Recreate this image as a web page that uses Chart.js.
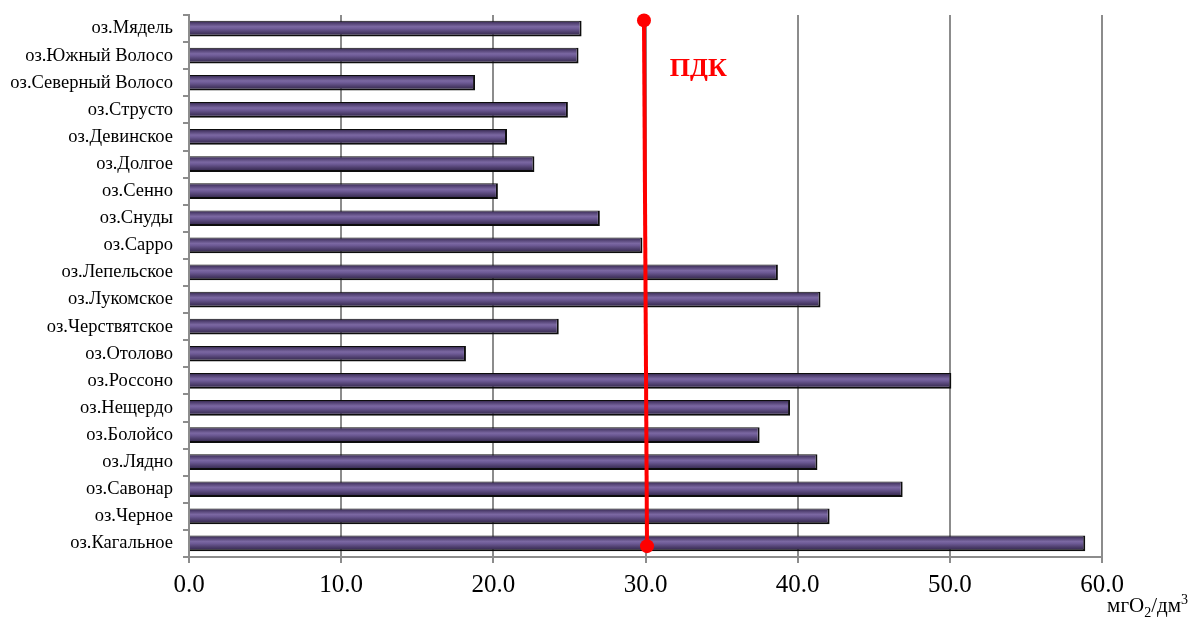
<!DOCTYPE html>
<html>
<head>
<meta charset="utf-8">
<script src="https://cdn.jsdelivr.net/npm/chart.js@4/dist/chart.umd.min.js"></script>
<style>
  html, body { margin: 0; padding: 0; background: #fff; }
  #wrap { width: 1189px; height: 626px; }
</style>
</head>
<body>
<div id="wrap"><canvas id="c" width="1189" height="626"></canvas></div>
<script>
const lakes = [
  'оз.Мядель', 'оз.Южный Волосо', 'оз.Северный Волосо', 'оз.Струсто', 'оз.Девинское',
  'оз.Долгое', 'оз.Сенно', 'оз.Снуды', 'оз.Сарро', 'оз.Лепельское',
  'оз.Лукомское', 'оз.Черствятское', 'оз.Отолово', 'оз.Россоно', 'оз.Нещердо',
  'оз.Болойсо', 'оз.Лядно', 'оз.Савонар', 'оз.Черное', 'оз.Кагальное'
];
const values = [
  25.8, 25.6, 18.8, 24.9, 20.9,
  22.7, 20.3, 27.0, 29.8, 38.7,
  41.5, 24.3, 18.2, 50.1, 39.5,
  37.5, 41.3, 46.9, 42.1, 58.9
];
const pdkLine = [ {x: 29.9, y: 0.99}, {x: 30.1, y: 0.02} ];
const pdkLabel = 'ПДК';
const xTicks = [0, 10, 20, 30, 40, 50, 60];

const GRID = '#8c8c8c';
const SERIF = '"Liberation Serif", "Times New Roman", serif';

function barGradient(ctx) {
  const chart = ctx.chart;
  const ys = chart.scales && chart.scales.y;
  if (!ys || ctx.type !== 'data') return '#5f4d7f';
  const cy = ys.getPixelForValue(ctx.dataIndex);
  if (!isFinite(cy)) return '#5f4d7f';
  const h = 8;
  const g = chart.ctx.createLinearGradient(0, cy - h, 0, cy + h);
  g.addColorStop(0, '#2c2240');
  g.addColorStop(0.15, '#4e3e6e');
  g.addColorStop(0.38, '#7b68a2');
  g.addColorStop(0.5, '#6e5b96');
  g.addColorStop(0.75, '#4a3b68');
  g.addColorStop(1, '#2a2040');
  return g;
}

const overlay = {
  id: 'overlay',
  afterDatasetsDraw(chart) {
    const c = chart.ctx;
    const xs = chart.scales.x, y2 = chart.scales.y2;
    c.save();
    c.fillStyle = '#ff0000';
    c.font = 'bold 26px ' + SERIF;
    c.textAlign = 'left';
    c.textBaseline = 'middle';
    c.fillText(pdkLabel, xs.getPixelForValue(31.6), y2.getPixelForValue(0.9));
    c.restore();
  },
  afterDraw(chart) {
    const c = chart.ctx;
    c.save();
    c.fillStyle = '#000';
    c.textBaseline = 'alphabetic';
    c.textAlign = 'left';
    const big = '21px ' + SERIF, small = '14px ' + SERIF;
    const parts = [
      {t: 'мгО', f: big, dy: 0},
      {t: '2', f: small, dy: 5},
      {t: '/дм', f: big, dy: 0},
      {t: '3', f: small, dy: -8}
    ];
    let total = 0;
    parts.forEach(p => { c.font = p.f; p.w = c.measureText(p.t).width; total += p.w; });
    let x = 1188 - total;
    const base = 612;
    parts.forEach(p => { c.font = p.f; c.fillText(p.t, x, base + p.dy); x += p.w; });
    c.restore();
  }
};

new Chart(document.getElementById('c'), {
  type: 'bar',
  data: {
    labels: lakes,
    datasets: [
      {
        type: 'bar',
        data: values,
        backgroundColor: barGradient,
        borderColor: '#0d0d0d',
        borderWidth: {top: 1, bottom: 2, right: 2, left: 0},
        borderSkipped: 'left',
        grouped: false,
        categoryPercentage: 1,
        barPercentage: 0.58,
        xAxisID: 'x',
        yAxisID: 'y',
        order: 1
      },
      {
        type: 'line',
        data: pdkLine,
        borderColor: '#ff0000',
        borderWidth: 4,
        pointRadius: 7,
        pointBackgroundColor: '#ff0000',
        pointBorderColor: '#ff0000',
        pointBorderWidth: 0,
        xAxisID: 'x',
        yAxisID: 'y2',
        clip: false,
        order: 0
      }
    ]
  },
  options: {
    indexAxis: 'y',
    responsive: false,
    animation: false,
    devicePixelRatio: 1,
    layout: { padding: { top: 15, right: 87, bottom: 0, left: 0 } },
    plugins: { legend: { display: false }, tooltip: { enabled: false } },
    scales: {
      x: {
        type: 'linear', position: 'bottom', min: 0, max: 60,
        afterBuildTicks(s) { s.ticks = xTicks.map(v => ({value: v})); },
        ticks: { callback: v => Number(v).toFixed(1), color: '#000', font: { family: SERIF, size: 25 }, padding: 7, maxRotation: 0 },
        grid: { color: GRID, lineWidth: 2, tickLength: 6, tickColor: GRID },
        border: { color: GRID, width: 2 },
        afterFit(s) { s.height = 69; }
      },
      y: {
        type: 'category', position: 'left', offset: true,
        ticks: { color: '#000', font: { family: SERIF, size: 18.5 }, padding: 10, autoSkip: false },
        grid: { drawOnChartArea: false, offset: true, tickLength: 6, color: GRID, lineWidth: 2 },
        border: { color: GRID, width: 2 },
        afterFit(s) { s.width = 189; s.paddingTop = 0; s.paddingBottom = 0; }
      },
      y2: { type: 'linear', position: 'right', min: 0, max: 1, offset: false, display: false }
    }
  },
  plugins: [overlay]
});
</script>
</body>
</html>
